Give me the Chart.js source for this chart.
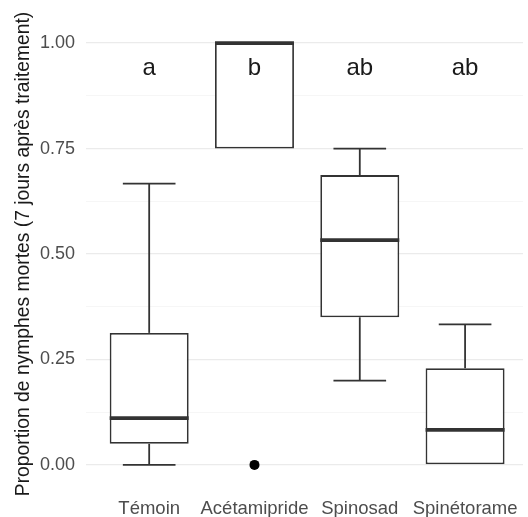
<!DOCTYPE html>
<html>
<head>
<meta charset="utf-8">
<script src="https://cdn.jsdelivr.net/npm/chart.js@4/dist/chart.umd.min.js"></script>
<style>
  html, body { margin: 0; padding: 0; background: #fff; overflow: hidden; }
</style>
</head>
<body>
<canvas id="boxChart" width="528" height="517"></canvas>
<script>
// Data
const categories = ['Témoin', 'Acétamipride', 'Spinosad', 'Spinétorame'];
const whiskerLow = [0, 0.75, 0.2, 0];
const q1 = [0.05, 0.75, 0.35, 0];
const medians = [0.111, 1, 0.533, 0.083];
const q3 = [0.313, 1, 0.687, 0.229];
const whiskerHigh = [0.667, 1, 0.75, 0.333];
const outlierCat = [1];
const outlierValue = [0];
const letters = ['a', 'b', 'ab', 'ab'];
const letterLevel = 0.94;
const yMajorTicks = [0, 0.25, 0.5, 0.75, 1];
const yMinorTicks = [0.125, 0.375, 0.625, 0.875];

Chart.defaults.font.family = "'Liberation Sans', Arial, sans-serif";

const lineColor = '#333333';

// Whiskers, caps, medians and the letters, drawn through the chart scales
const boxExtras = {
    id: 'boxExtras',
    beforeDatasetsDraw(chart) {
        const { ctx, scales: { x, y } } = chart;
        const step = x.getPixelForValue(1) - x.getPixelForValue(0);
        const capHalf = step * 0.25;
        ctx.save();
        ctx.strokeStyle = lineColor;
        ctx.lineWidth = 1.8;
        categories.forEach((c, i) => {
            const px = x.getPixelForValue(i);
            if (whiskerLow[i] < q1[i]) {
                ctx.beginPath();
                ctx.moveTo(px, y.getPixelForValue(whiskerLow[i]));
                ctx.lineTo(px, y.getPixelForValue(q1[i]));
                ctx.stroke();
            }
            if (whiskerHigh[i] > q3[i]) {
                ctx.beginPath();
                ctx.moveTo(px, y.getPixelForValue(q3[i]));
                ctx.lineTo(px, y.getPixelForValue(whiskerHigh[i]));
                ctx.stroke();
            }
            [whiskerLow[i], whiskerHigh[i]].forEach(v => {
                if (v === q1[i] || v === q3[i]) return;
                const py = y.getPixelForValue(v);
                ctx.beginPath();
                ctx.moveTo(px - capHalf, py);
                ctx.lineTo(px + capHalf, py);
                ctx.stroke();
            });
        });
        ctx.restore();
    },
    afterDatasetsDraw(chart) {
        const { ctx, scales: { x, y } } = chart;
        const step = x.getPixelForValue(1) - x.getPixelForValue(0);
        const boxHalf = step * 0.375;
        ctx.save();
        ctx.strokeStyle = lineColor;
        ctx.lineWidth = 3.6;
        categories.forEach((c, i) => {
            const px = x.getPixelForValue(i);
            const py = y.getPixelForValue(medians[i]);
            ctx.beginPath();
            ctx.moveTo(px - boxHalf, py);
            ctx.lineTo(px + boxHalf, py);
            ctx.stroke();
        });
        ctx.fillStyle = '#1a1a1a';
        ctx.font = "24px 'Liberation Sans', Arial, sans-serif";
        ctx.textAlign = 'center';
        ctx.textBaseline = 'middle';
        letters.forEach((l, i) => {
            ctx.fillText(l, x.getPixelForValue(i), y.getPixelForValue(letterLevel));
        });
        ctx.restore();
    }
};

const ctx = document.getElementById('boxChart').getContext('2d');

new Chart(ctx, {
    type: 'bar',
    data: {
        datasets: [{
            type: 'bar',
            data: categories.map((c, i) => ({ x: i, y: [q1[i], q3[i]] })),
            backgroundColor: '#ffffff',
            borderColor: lineColor,
            borderWidth: 1.8,
            borderSkipped: false,
            categoryPercentage: 1,
            barPercentage: 0.75
        }, {
            type: 'scatter',
            data: outlierCat.map((c, i) => ({ x: c, y: outlierValue[i] })),
            backgroundColor: '#000000',
            borderWidth: 0,
            pointRadius: 5
        }]
    },
    options: {
        responsive: false,
        animation: false,
        layout: { padding: { top: 22, left: 0, right: 0, bottom: 0 } },
        plugins: {
            legend: { display: false },
            tooltip: { enabled: false }
        },
        scales: {
            x: {
                type: 'linear',
                min: -0.6,
                max: 3.55,
                offset: false,
                grid: { display: false },
                border: { display: false },
                afterBuildTicks: scale => {
                    scale.ticks = categories.map((c, i) => ({ value: i }));
                },
                afterFit: scale => {
                    scale.height = 31;
                    scale.paddingLeft = 0;
                    scale.paddingRight = 0;
                },
                ticks: {
                    color: '#4d4d4d',
                    font: { size: 18.5 },
                    padding: 4,
                    maxRotation: 0,
                    autoSkip: false,
                    callback: value => categories[value]
                }
            },
            y: {
                type: 'linear',
                min: -0.05,
                max: 1.05,
                border: { display: false },
                afterBuildTicks: scale => {
                    scale.ticks = yMajorTicks.concat(yMinorTicks)
                        .sort((a, b) => a - b)
                        .map(v => ({ value: v }));
                },
                afterFit: scale => { scale.width = 86; },
                grid: {
                    drawTicks: false,
                    color: c => yMajorTicks.includes(c.tick.value) ? '#ebebeb' : '#f4f4f4',
                    lineWidth: c => yMajorTicks.includes(c.tick.value) ? 1.2 : 0.8
                },
                ticks: {
                    color: '#4d4d4d',
                    font: { size: 18 },
                    padding: 11,
                    autoSkip: false,
                    callback: value => yMajorTicks.includes(value) ? value.toFixed(2) : ''
                },
                title: {
                    display: true,
                    text: 'Proportion de nymphes mortes (7 jours après traitement)',
                    color: '#1a1a1a',
                    font: { size: 19.3 },
                    padding: { top: 12, bottom: 0 }
                }
            }
        }
    },
    plugins: [boxExtras]
});
</script>
</body>
</html>
